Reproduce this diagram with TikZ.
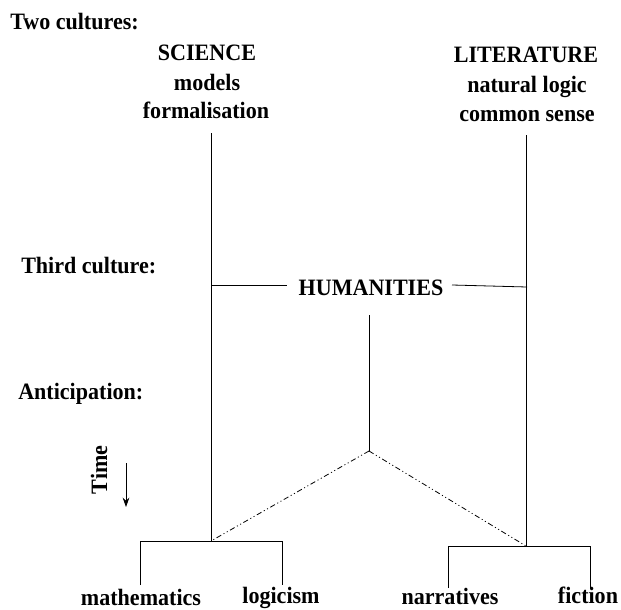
\documentclass[tikz,border=0pt]{standalone}
\usepackage{fontspec}
\setmainfont[FakeStretch=0.94]{Liberation Serif}
\usetikzlibrary{arrows.meta}
\begin{document}
\begin{tikzpicture}[x=0.75pt,y=-0.75pt,
  lbl/.style={inner sep=0pt, font=\fontsize{17.6}{21}\selectfont\bfseries},
  ln/.style={line width=0.6pt},
  dd/.style={line width=0.6pt, dash pattern=on 4pt off 2pt on 0.8pt off 2pt on 0.8pt off 2pt}]
\useasboundingbox (0,0) rectangle (621,610);
% texts
\node[lbl,anchor=base west] (two) at (10,30) {Two cultures:};
\node[lbl,anchor=base] (sci) at (207,61) {SCIENCE};
\node[lbl,anchor=base] (mod) at (207,90) {models};
\node[lbl,anchor=base] (form) at (206,118) {formalisation};
\node[lbl,anchor=base] (lit) at (526,63) {LITERATURE};
\node[lbl,anchor=base] (nat) at (527,93) {natural logic};
\node[lbl,anchor=base] (com) at (527,122) {common sense};
\node[lbl,anchor=base west] (third) at (21,273) {Third culture:};
\node[lbl,anchor=base] (hum) at (371,295) {HUMANITIES};
\node[lbl,anchor=base west] (ant) at (18,399) {Anticipation:};
\node[lbl,rotate=90] (time) at (99,470) {Time};
\node[lbl,anchor=base] (math) at (141,605) {mathematics};
\node[lbl,anchor=base] (logi) at (281,603) {logicism};
\node[lbl,anchor=base] (narr) at (450,604) {narratives};
\node[lbl,anchor=base] (fict) at (588,603) {fiction};
% junction coordinates
\coordinate (lt) at (211,133);
\coordinate (lj) at (211,285);
\coordinate (lb) at (211,541);
\coordinate (rt) at (526,135);
\coordinate (rj) at (527,287);
\coordinate (rb) at (526,546);
\coordinate (hl) at (287,285);
\coordinate (hr) at (452,285);
\coordinate (ct) at (369,315);
\coordinate (cb) at (369,451);
\coordinate (bl1) at (140,541);
\coordinate (bl2) at (282,541);
\coordinate (bl1e) at (140,585);
\coordinate (bl2e) at (282,585);
\coordinate (br1) at (448,546);
\coordinate (br2) at (590,546);
\coordinate (br1e) at (448,588);
\coordinate (br2e) at (590,588);
\coordinate (ta) at (126,463);
\coordinate (tb) at (126,507);
% lines
\draw[ln] (lt) -- (lb);
\draw[ln] (rt) -- (rb);
\draw[ln] (lj) -- (hl);
\draw[ln] (hr) -- (rj);
\draw[ln] (ct) -- (cb);
\draw[dd] (cb) -- (lb);
\draw[dd] (cb) -- (rb);
\draw[ln] (bl1e) -- (bl1) -- (bl2) -- (bl2e);
\draw[ln] (br1e) -- (br1) -- (br2) -- (br2e);
\draw[ln,-{Stealth[length=7pt,width=5pt]}] (ta) -- (tb);
\end{tikzpicture}
\end{document}
